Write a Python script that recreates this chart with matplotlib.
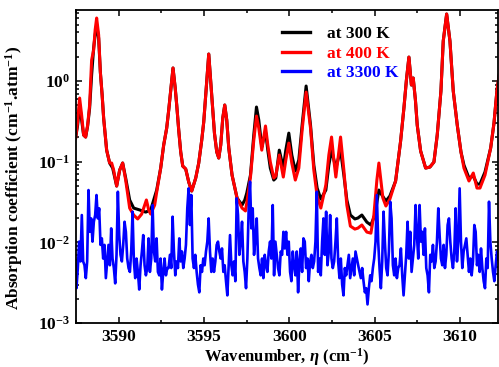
import numpy as np
import matplotlib
matplotlib.use("Agg")
import matplotlib.pyplot as plt
from matplotlib.ticker import MultipleLocator, LogLocator, FuncFormatter, NullFormatter

plt.rcParams['font.family'] = 'Liberation Serif'
plt.rcParams['font.weight'] = 'bold'
plt.rcParams['mathtext.fontset'] = 'custom'
plt.rcParams['mathtext.rm'] = 'Liberation Serif:bold'
plt.rcParams['mathtext.bf'] = 'Liberation Serif:bold'
plt.rcParams['mathtext.it'] = 'Liberation Serif:italic:bold'

# 300 K spectrum (wavenumber, absorption coefficient)
wn_300 = [3587.478, 3587.595, 3587.713, 3587.830, 3587.947, 3588.065, 3588.182, 3588.299,
          3588.416, 3588.534, 3588.622, 3588.710, 3588.827, 3588.927, 3589.032, 3589.120,
          3589.296, 3589.472, 3589.648, 3589.883, 3590.059, 3590.235, 3590.411, 3590.645,
          3590.880, 3591.232, 3591.584, 3591.877, 3592.229, 3592.463, 3592.639, 3592.815,
          3592.933, 3593.050, 3593.185, 3593.314, 3593.402, 3593.519, 3593.636, 3593.754,
          3593.930, 3594.106, 3594.281, 3594.516, 3594.692, 3594.868, 3594.985, 3595.120,
          3595.279, 3595.437, 3595.613, 3595.748, 3595.865, 3595.982, 3596.100, 3596.217,
          3596.334, 3596.452, 3596.645, 3596.938, 3597.232, 3597.390, 3597.507, 3597.724,
          3597.918, 3598.076, 3598.211, 3598.387, 3598.504, 3598.621, 3598.739, 3598.886,
          3599.091, 3599.208, 3599.413, 3599.648, 3599.795, 3599.971, 3600.146, 3600.352,
          3600.557, 3600.751, 3600.985, 3601.243, 3601.437, 3601.630, 3601.847, 3602.141,
          3602.317, 3602.475, 3602.727, 3603.003, 3603.196, 3603.372, 3603.578, 3603.841,
          3604.017, 3604.252, 3604.545, 3604.780, 3605.015, 3605.249, 3605.425, 3605.660,
          3605.894, 3606.229, 3606.522, 3606.716, 3606.862, 3607.009, 3607.155, 3607.261,
          3607.390, 3607.496, 3607.695, 3607.988, 3608.240, 3608.475, 3608.668, 3608.885,
          3609.020, 3609.220, 3609.413, 3609.607, 3609.842, 3610.059, 3610.234, 3610.528,
          3610.780, 3610.997, 3611.173, 3611.466, 3611.800, 3611.994, 3612.170, 3612.346]
k_300 = [0.196, 0.284, 0.504, 0.328, 0.214, 0.202, 0.277, 0.463,
         1.19, 2.57, 3.72, 4.95, 3.41, 1.29, 0.671, 0.347,
         0.139, 0.0962, 0.0834, 0.0499, 0.0787, 0.0962, 0.0627, 0.0335,
         0.0266, 0.0252, 0.0237, 0.0252, 0.0445, 0.0834, 0.161, 0.261,
         0.436, 0.773, 1.45, 0.819, 0.504, 0.247, 0.132, 0.0883,
         0.0811, 0.0559, 0.0433, 0.0627, 0.0962, 0.185, 0.310, 0.752,
         2.16, 0.752, 0.226, 0.132, 0.111, 0.161, 0.347, 0.504,
         0.328, 0.148, 0.0682, 0.0354, 0.0290, 0.0335, 0.0408, 0.0682,
         0.214, 0.476, 0.328, 0.152, 0.196, 0.226, 0.139, 0.0834,
         0.0592, 0.0627, 0.139, 0.0834, 0.139, 0.226, 0.121, 0.0766,
         0.105, 0.284, 0.867, 0.284, 0.0908, 0.0471, 0.0344, 0.0445,
         0.0908, 0.139, 0.0834, 0.139, 0.0682, 0.0335, 0.0218, 0.0195,
         0.0200, 0.0218, 0.0178, 0.0164, 0.0218, 0.0445, 0.0386, 0.0325,
         0.0375, 0.0576, 0.180, 0.463, 1.03, 1.98, 0.892, 1.09,
         0.581, 0.284, 0.1355, 0.0834, 0.0858, 0.0990, 0.214, 0.752,
         3.13, 6.77, 3.13, 0.752, 0.284, 0.132, 0.0908, 0.0627,
         0.0664, 0.0528, 0.0528, 0.0744, 0.148, 0.301, 0.773, 1.37]

# 400 K spectrum
wn_400 = [3587.478, 3587.595, 3587.713, 3587.830, 3587.947, 3588.065, 3588.182, 3588.299,
          3588.416, 3588.534, 3588.622, 3588.710, 3588.827, 3588.927, 3589.032, 3589.120,
          3589.296, 3589.472, 3589.590, 3589.706, 3589.883, 3590.059, 3590.235, 3590.411,
          3590.645, 3590.880, 3591.114, 3591.349, 3591.625, 3591.760, 3591.877, 3592.111,
          3592.229, 3592.463, 3592.639, 3592.815, 3592.933, 3593.050, 3593.185, 3593.314,
          3593.402, 3593.519, 3593.636, 3593.754, 3593.930, 3594.106, 3594.281, 3594.516,
          3594.692, 3594.868, 3594.985, 3595.120, 3595.279, 3595.437, 3595.613, 3595.748,
          3595.865, 3595.982, 3596.100, 3596.217, 3596.334, 3596.452, 3596.645, 3596.938,
          3597.232, 3597.431, 3597.507, 3597.724, 3597.918, 3598.076, 3598.211, 3598.387,
          3598.604, 3598.739, 3598.886, 3599.091, 3599.208, 3599.413, 3599.648, 3599.795,
          3599.971, 3600.146, 3600.352, 3600.557, 3600.751, 3600.985, 3601.243, 3601.437,
          3601.630, 3601.847, 3602.141, 3602.317, 3602.475, 3602.610, 3602.727, 3602.845,
          3603.003, 3603.196, 3603.372, 3603.578, 3603.841, 3604.017, 3604.252, 3604.545,
          3604.780, 3604.956, 3605.132, 3605.249, 3605.366, 3605.484, 3605.660, 3605.894,
          3606.229, 3606.522, 3606.716, 3606.862, 3607.009, 3607.155, 3607.261, 3607.390,
          3607.496, 3607.695, 3607.988, 3608.240, 3608.475, 3608.668, 3608.885, 3609.020,
          3609.220, 3609.413, 3609.607, 3609.842, 3610.059, 3610.234, 3610.528, 3610.780,
          3610.997, 3611.173, 3611.466, 3611.800, 3611.994, 3612.170, 3612.346]
k_400 = [0.196, 0.310, 0.615, 0.378, 0.214, 0.202, 0.284, 0.504,
         1.82, 2.42, 4.29, 6.04, 3.72, 1.29, 0.671, 0.347,
         0.139, 0.0962, 0.0962, 0.0787, 0.0499, 0.0787, 0.0962, 0.0592,
         0.0266, 0.0218, 0.0195, 0.0224, 0.0335, 0.0252, 0.0224, 0.0290,
         0.0420, 0.0834, 0.161, 0.261, 0.436, 0.773, 1.45, 0.819,
         0.504, 0.247, 0.132, 0.0883, 0.0811, 0.0559, 0.0433, 0.0627,
         0.0962, 0.185, 0.310, 0.752, 2.16, 0.752, 0.226, 0.132,
         0.111, 0.161, 0.347, 0.504, 0.328, 0.148, 0.0682, 0.0354,
         0.0266, 0.0245, 0.0307, 0.0645, 0.185, 0.368, 0.261, 0.139,
         0.277, 0.161, 0.0990, 0.0627, 0.0664, 0.121, 0.0645, 0.105,
         0.170, 0.0962, 0.0592, 0.0834, 0.247, 0.729, 0.261, 0.0787,
         0.0375, 0.0266, 0.0513, 0.121, 0.202, 0.105, 0.0645, 0.105,
         0.202, 0.0787, 0.0290, 0.0159, 0.0146, 0.0150, 0.0164, 0.0134,
         0.0130, 0.0218, 0.0592, 0.0962, 0.0592, 0.0354, 0.0282, 0.0344,
         0.0576, 0.180, 0.463, 1.03, 1.98, 0.892, 1.09, 0.581,
         0.284, 0.1355, 0.0834, 0.0858, 0.0990, 0.214, 0.752, 3.13,
         6.77, 3.13, 0.752, 0.284, 0.132, 0.0834, 0.0576, 0.0723,
         0.0471, 0.0471, 0.0682, 0.148, 0.301, 0.773, 1.37]

# 3300 K spectrum, sampled on an even wavenumber grid
wn_3300_start, wn_3300_end = 3587.45, 3612.25
k_3300 = [0.0063, 0.0027, 0.0048, 0.0102, 0.0058, 0.0218, 0.0058, 0.0052, 0.0036, 0.0058,
          0.0445, 0.0135, 0.0198, 0.0102, 0.0180, 0.0218, 0.0386, 0.0198, 0.0264, 0.0093,
          0.0112, 0.0063, 0.0093, 0.0036, 0.0058, 0.0093, 0.0052, 0.0149, 0.0063, 0.0048,
          0.0031, 0.0070, 0.0424, 0.0123, 0.0070, 0.0058, 0.0093, 0.0180, 0.0135, 0.0063,
          0.0048, 0.0043, 0.0077, 0.0240, 0.0058, 0.0036, 0.0063, 0.0043, 0.0026, 0.0052,
          0.0077, 0.0123, 0.0052, 0.0039, 0.0048, 0.0112, 0.0043, 0.0063, 0.0290, 0.0077,
          0.0058, 0.0112, 0.0043, 0.0039, 0.0063, 0.0026, 0.0043, 0.0063, 0.0039, 0.0048,
          0.0048, 0.0070, 0.0048, 0.0208, 0.0077, 0.0039, 0.0058, 0.0048, 0.0112, 0.0058,
          0.0077, 0.0048, 0.0063, 0.0093, 0.0264, 0.0467, 0.0164, 0.0386, 0.0063, 0.0048,
          0.0070, 0.0043, 0.0030, 0.0024, 0.0052, 0.0043, 0.0063, 0.0052, 0.0077, 0.0102,
          0.0198, 0.0077, 0.0043, 0.0063, 0.0043, 0.0058, 0.0093, 0.0102, 0.0077, 0.0063,
          0.0084, 0.0043, 0.0052, 0.0033, 0.0022, 0.0052, 0.0123, 0.0052, 0.0039, 0.0058,
          0.0033, 0.0351, 0.0218, 0.0070, 0.0102, 0.0180, 0.0058, 0.0043, 0.0027, 0.0063,
          0.0264, 0.0565, 0.0149, 0.0264, 0.0070, 0.0112, 0.0198, 0.0063, 0.0048, 0.0039,
          0.0063, 0.0036, 0.0070, 0.0052, 0.0043, 0.0077, 0.0102, 0.0063, 0.0290, 0.0039,
          0.0102, 0.0070, 0.0048, 0.0039, 0.0077, 0.0070, 0.0135, 0.0084,
          0.0135, 0.0070, 0.0102, 0.0043, 0.0033, 0.0077, 0.0052, 0.0039, 0.0077, 0.0024,
          0.0058, 0.0084, 0.0043, 0.0112, 0.0102, 0.0048, 0.0063, 0.0033, 0.0058, 0.0070,
          0.0048, 0.0058, 0.0102, 0.0424, 0.0043, 0.0063, 0.0039, 0.0102, 0.0198, 0.0070,
          0.0240, 0.0052, 0.0077, 0.0218, 0.0063, 0.0048, 0.0058, 0.0102, 0.0198, 0.0058,
          0.0036, 0.0063, 0.0030, 0.0022, 0.0048, 0.0039, 0.0052, 0.0070, 0.0036, 0.0048,
          0.0063, 0.0039, 0.0077, 0.0063, 0.0052, 0.0043, 0.0036, 0.0048, 0.0033, 0.0024,
          0.0027, 0.0017, 0.0027, 0.0039, 0.0033, 0.0048, 0.0063, 0.0102, 0.0386, 0.0102,
          0.0048, 0.0027, 0.0058, 0.0240, 0.0102, 0.0048, 0.0039, 0.0077, 0.0319, 0.0198,
          0.0052, 0.0039, 0.0063, 0.0036, 0.0048, 0.0052, 0.0084, 0.0039, 0.0022, 0.0039,
          0.0070, 0.0180, 0.0063, 0.0135, 0.0043, 0.0063, 0.0093, 0.0290, 0.0123, 0.0063,
          0.0290, 0.0102, 0.0135, 0.0070, 0.0149, 0.0048, 0.0039, 0.0024, 0.0070, 0.0058,
          0.0093, 0.0048, 0.0058, 0.0102, 0.0264, 0.0123, 0.0063, 0.0052, 0.0093, 0.0048,
          0.0070, 0.0164, 0.0198, 0.0102, 0.0063, 0.0048, 0.0077, 0.0264, 0.0058, 0.0102,
          0.0467, 0.0102, 0.0048, 0.0077, 0.0093, 0.0112, 0.0070, 0.0043, 0.0063, 0.0039,
          0.0058, 0.0164, 0.0135, 0.0052, 0.0070, 0.0043, 0.0084, 0.0048, 0.0033, 0.0027,
          0.0063, 0.0048, 0.0319, 0.0102, 0.0063, 0.0043, 0.0033, 0.0052, 0.0077, 0.0063]
wn_3300 = np.linspace(wn_3300_start, wn_3300_end, len(k_3300))

fig = plt.figure(figsize=(4.99, 3.67), dpi=100)
ax = fig.add_axes([0.1523, 0.1199, 0.8447, 0.8529])

ax.plot(wn_300, k_300, color='black', lw=2.2, label='at 300 K')
ax.plot(wn_400, k_400, color='#ff0000', lw=2.2, label='at 400 K')
ax.plot(wn_3300, k_3300, color='#0000ff', lw=1.9, label='at 3300 K')

ax.set_yscale('log')
ax.set_xlim(3587.5, 3612.2)
ax.set_ylim(1e-3, 7.6)

ax.xaxis.set_major_locator(MultipleLocator(5))
ax.xaxis.set_minor_locator(MultipleLocator(2.5))
ax.yaxis.set_major_locator(LogLocator(base=10, numticks=10))
ax.yaxis.set_minor_locator(LogLocator(base=10, subs=np.arange(2, 10), numticks=10))
ax.yaxis.set_major_formatter(FuncFormatter(lambda v, p: r'$\mathbf{10^{%d}}$' % round(np.log10(v))))
ax.yaxis.set_minor_formatter(NullFormatter())

ax.tick_params(which='both', direction='in', top=True, right=True, width=1.1, labelsize=12.5)
ax.tick_params(which='major', length=4.5, pad=4.5)
ax.tick_params(which='minor', length=2.5)
for s in ax.spines.values():
    s.set_linewidth(1.3)

ax.set_xlabel(r'Wavenumber, $\eta$ (cm$^{\mathbf{-1}}$)', fontsize=12, fontweight='bold', labelpad=0.5)
ax.set_ylabel(r'Absorption coefficient (cm$^{\mathbf{-1}}$.atm$^{\mathbf{-1}}$)', fontsize=12.5,
              fontweight='bold')
ax.yaxis.set_label_coords(-0.121, 0.463)

leg = ax.legend(loc='upper left', bbox_to_anchor=(0.489, 0.948), frameon=False, fontsize=12.5,
                handlelength=1.6, handletextpad=1.0, labelspacing=0.18, borderpad=0,
                borderaxespad=0, labelcolor='linecolor')
for line in leg.get_lines():
    line.set_linewidth(2.4)

fig.savefig('out.png', dpi=100)
